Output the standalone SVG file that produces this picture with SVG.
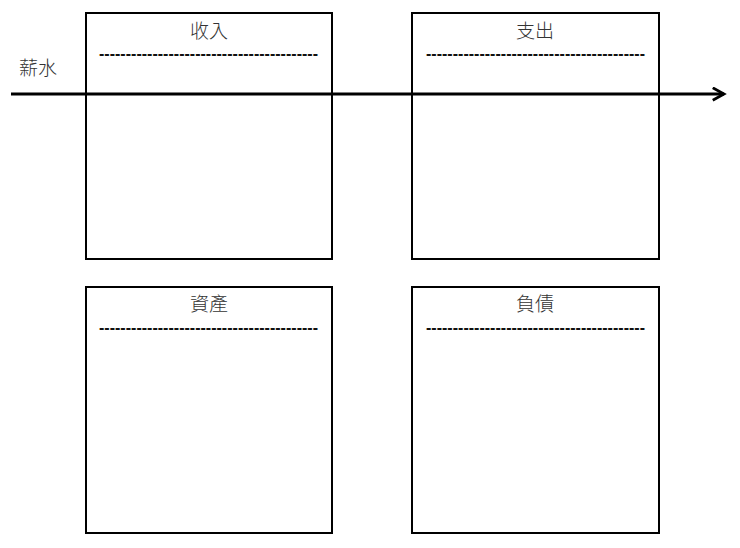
<svg xmlns="http://www.w3.org/2000/svg" width="740" height="548" viewBox="0 0 740 548">
<defs>
<style>
.box{fill:#fff;stroke:#000;stroke-width:2}
.t{font-family:"Noto Sans CJK TC","Liberation Sans",sans-serif;font-size:19px;font-weight:300;fill:#333;text-anchor:middle}
.d{font-family:"Liberation Sans",sans-serif;font-size:16px;font-weight:bold;fill:#111}
.conn{fill:none;stroke:#000;stroke-width:3}
</style>
<marker id="arr" viewBox="0 0 12 12" refX="10" refY="6" markerWidth="5" markerHeight="5" orient="auto" markerUnits="strokeWidth">
<path d="M1,1 L10,6 L1,11" fill="none" stroke="#000" stroke-width="2.2"/>
</marker>
</defs>
<rect width="740" height="548" fill="#fff"/>
<g id="income">
<rect class="box" x="86" y="13" width="246" height="246"/>
<text class="t" x="209" y="38">收入</text>
<text class="d" x="99" y="59" textLength="219" lengthAdjust="spacing">-----------------------------------------</text>
</g>
<g id="expense">
<rect class="box" x="412" y="13" width="247" height="246"/>
<text class="t" x="535" y="38">支出</text>
<text class="d" x="426" y="59" textLength="219" lengthAdjust="spacing">-----------------------------------------</text>
</g>
<g id="assets">
<rect class="box" x="86" y="287" width="246" height="246"/>
<text class="t" x="209" y="311">資產</text>
<text class="d" x="99" y="333" textLength="219" lengthAdjust="spacing">-----------------------------------------</text>
</g>
<g id="liabilities">
<rect class="box" x="412" y="287" width="247" height="246"/>
<text class="t" x="535" y="311">負債</text>
<text class="d" x="426" y="333" textLength="219" lengthAdjust="spacing">-----------------------------------------</text>
</g>
<g id="salary">
<text class="t" x="38" y="75">薪水</text>
</g>
<g id="connectors">
<line class="conn" x1="11" y1="94" x2="724" y2="94" marker-end="url(#arr)"/>
</g>
</svg>
